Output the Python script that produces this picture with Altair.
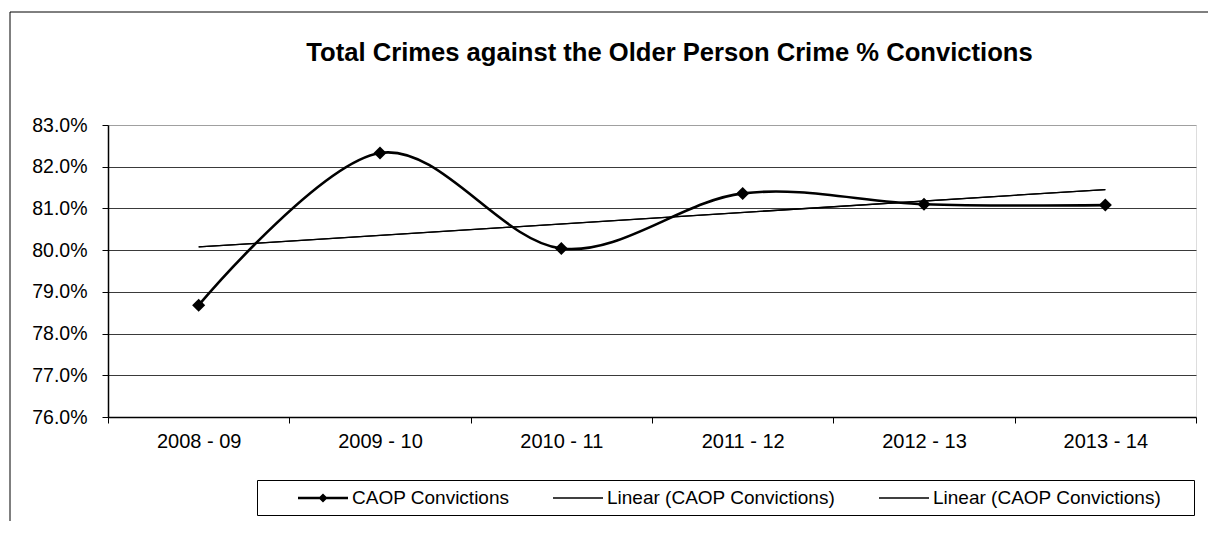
import json
import altair as alt
import pandas as pd

# ---- data ----
periods = ["2008 - 09", "2009 - 10", "2010 - 11", "2011 - 12", "2012 - 13", "2013 - 14"]
convictions = [78.68, 82.33, 80.04, 81.36, 81.10, 81.08]
series_names = ["CAOP Convictions", "Linear (CAOP Convictions)", "Linear (CAOP Convictions)#2"]
y_ticks = [76, 77, 78, 79, 80, 81, 82, 83]
title_text = "Total Crimes against the Older Person Crime % Convictions"

FONT = "Liberation Sans"

df = pd.DataFrame({
    "period": periods,
    "idx": list(range(len(periods))),
    "value": convictions,
})

x_enc = alt.X(
    "period:N",
    bandPosition=0.5,
    scale=alt.Scale(type="band", domain=periods, paddingInner=0, paddingOuter=0),
    axis=alt.Axis(
        title=None, labelAngle=0, tickBand="extent", grid=False,
        domainColor="black", domainWidth=1.5, tickColor="black", tickSize=6,
        labelFontSize=20, labelPadding=8, labelColor="black", labelFont=FONT,
    ),
)
y_enc = alt.Y(
    "value:Q",
    scale=alt.Scale(domain=[y_ticks[0], y_ticks[-1]], nice=False, zero=False),
    axis=alt.Axis(
        title=None, values=y_ticks,
        labelExpr="format(datum.value, '.1f') + '%'",
        grid=True,
        gridColor={"condition": {"test": "datum.value == 83 || datum.value == 76", "value": "#a0a0a0"}, "value": "#3a3a3a"},
        gridWidth=1,
        domainColor="black", domainWidth=1.5, tickColor="black", tickSize=6,
        labelFontSize=19.5, labelPadding=15, labelColor="black", labelFont=FONT,
    ),
)

base = alt.Chart(df)

border = alt.Chart(pd.DataFrame({"k": [0]})).mark_rect(
    fill="transparent", stroke="black", strokeWidth=1
).encode(x=alt.value(-98), y=alt.value(-113), x2=alt.value(1300), y2=alt.value(700))

period_lookup = json.dumps(periods) + "[round(datum.idx)]"

trend1 = base.transform_regression(
    "idx", "value", extent=[0, len(periods) - 1]
).transform_calculate(period=period_lookup).mark_line(
    color="black", strokeWidth=1.3
).encode(x=x_enc, y=y_enc)

trend2 = base.transform_regression(
    "idx", "value", extent=[0, len(periods) - 1]
).transform_calculate(period=period_lookup).mark_line(
    color="black", strokeWidth=1.3
).encode(x=x_enc, y=y_enc)

curve = base.mark_line(
    interpolate="cardinal", color="black", strokeWidth=2.6
).encode(x=x_enc, y=y_enc)

points = base.mark_point(
    shape="diamond", filled=True, size=170, color="black", opacity=1
).encode(x=x_enc, y=y_enc)

# legend symbols: filled custom paths (unit = 10 px at symbolSize 400)
path_main = "M-2.5,-0.12L2.5,-0.12L2.5,0.12L-2.5,0.12Z M0,-0.46L0.46,0L0,0.46L-0.46,0Z"
path_trend = "M-2.5,-0.08L2.5,-0.08L2.5,0.08L-2.5,0.08Z"

legend_label_expr = (
    "datum.value == '" + series_names[2] + "' ? '" + series_names[1] + "' : datum.value"
)

legend_carrier = base.transform_calculate(series="'" + series_names[0] + "'").mark_point(
    filled=True, color="black", opacity=0
).encode(
    x=x_enc, y=y_enc,
    shape=alt.Shape(
        "series:N",
        scale=alt.Scale(domain=series_names, range=[path_main, path_trend, path_trend]),
        legend=alt.Legend(
            title=" ", titleOrient="right", titlePadding=26, titleFontSize=19,
            orient="none", legendX=149, legendY=355,
            direction="horizontal", symbolSize=400,
            symbolFillColor="black", symbolStrokeColor="black",
            symbolStrokeWidth=1.2, symbolOpacity=1,
            symbolOffset=48, labelOffset=18, columnPadding=9, padding=7,
            strokeColor="black", labelFontSize=19, labelFont=FONT,
            labelColor="black", labelExpr=legend_label_expr, labelLimit=600,
        ),
    ),
)

chart = alt.layer(border, trend1, trend2, curve, points, legend_carrier).properties(
    width=1088,
    height=292,
    title=alt.TitleParams(
        title_text, fontSize=25.6, fontWeight="bold", font=FONT, color="black",
        anchor="middle", frame="group", dx=17.5, offset=0, dy=75.5, baseline="alphabetic",
    ),
    autosize=alt.AutoSizeParams(type="none"),
    padding={"left": 100, "top": 117, "right": 12, "bottom": 104},
).configure_view(
    stroke="#a0a0a0", strokeWidth=2
).configure(font=FONT, background="white")

chart.save("out.html", embed_options={"renderer": "svg", "actions": False})
